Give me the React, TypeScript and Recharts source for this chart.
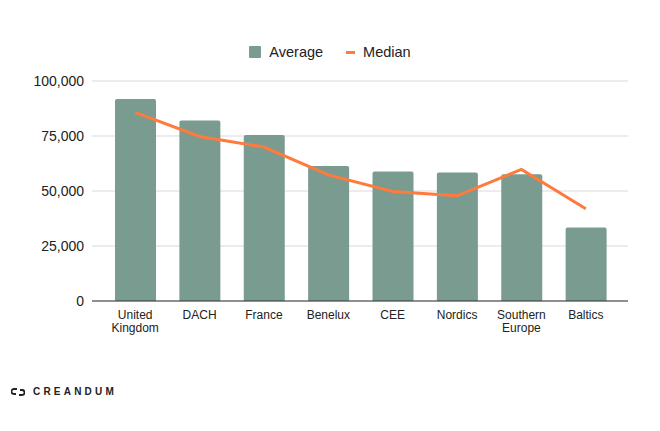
import React from 'react';
import { ComposedChart, Bar, Line, XAxis, YAxis, CartesianGrid, Legend } from 'recharts';

// Salary by region (EUR)
const regions = ['United Kingdom', 'DACH', 'France', 'Benelux', 'CEE', 'Nordics', 'Southern Europe', 'Baltics'];
const averageValues = [91800, 82000, 75400, 61400, 58900, 58400, 57600, 33400];
const medianValues = [85700, 74800, 70000, 57300, 49800, 47800, 59800, 41900];
const yTicks = [0, 25000, 50000, 75000, 100000];

const data = regions.map((region, i) => ({
  region,
  average: averageValues[i],
  median: medianValues[i],
}));

const FONT = '"Liberation Sans", Arial, sans-serif';
const BAR_COLOR = '#7a9c90';
const LINE_COLOR = '#ff7a3d';

const RegionTick = (props: { x: number; y: number; payload: { value: string } }) => {
  const { x, y, payload } = props;
  const words = payload.value.split(' ');
  return (
    <text x={x} y={y} textAnchor="middle" fill="#222" fontSize={12} fontFamily={FONT}>
      {words.map((w, i) => (
        <tspan key={w} x={x} dy={i === 0 ? 10 : 13}>
          {w}
        </tspan>
      ))}
    </text>
  );
};

const renderLegend = (props: { payload?: { value: string; type?: string; color?: string }[] }) => {
  const items = props.payload || [];
  return (
    <div
      style={{
        display: 'flex',
        justifyContent: 'center',
        alignItems: 'center',
        height: 24,
        fontFamily: FONT,
        fontSize: 14.5,
        color: '#222',
      }}
    >
      {items.map((item) => (
        <div key={item.value} style={{ display: 'flex', alignItems: 'center', marginRight: item.type === 'rect' ? 23 : 0 }}>
          {item.type === 'rect' ? (
            <span style={{ width: 12, height: 12, background: BAR_COLOR, borderRadius: 1, marginRight: 8 }} />
          ) : (
            <span style={{ width: 9, height: 3, background: LINE_COLOR, marginRight: 8 }} />
          )}
          <span>{item.value}</span>
        </div>
      ))}
    </div>
  );
};

const CreandumLogo = () => (
  <div
    style={{
      position: 'absolute',
      left: 11,
      top: 386,
      display: 'flex',
      alignItems: 'center',
      fontFamily: FONT,
    }}
  >
    <svg width={14} height={10} viewBox="0 0 14 10">
      <path d="M6 2 H3 a2.5 2.5 0 0 0 0 5 H5" fill="none" stroke="#222" strokeWidth={1.8} />
      <path d="M8 8 H11 a2.5 2.5 0 0 0 0 -5 H9" fill="none" stroke="#222" strokeWidth={1.8} />
    </svg>
    <span style={{ marginLeft: 8, fontSize: 10, fontWeight: 'bold', letterSpacing: 3.2, color: '#222' }}>CREANDUM</span>
  </div>
);

export default function App() {
  return (
    <div style={{ position: 'absolute', top: 0, left: 0, width: 660, height: 431, background: '#fff' }}>
      <ComposedChart
        width={660}
        height={360}
        data={data}
        margin={{ top: 40, right: 32, bottom: 29, left: 0 }}
        barCategoryGap={0}
      >
        <CartesianGrid vertical={false} stroke="#d9d9d9" />
        <XAxis
          dataKey="region"
          interval={0}
          tickLine={false}
          axisLine={{ stroke: '#333' }}
          padding={{ left: 11, right: 10 }}
          height={30}
          tick={RegionTick}
        />
        <YAxis
          width={92}
          domain={[0, 100000]}
          ticks={yTicks}
          axisLine={false}
          tickLine={false}
          tickFormatter={(v: number) => v.toLocaleString('en-US')}
          tick={{ fill: '#222', fontSize: 14, fontFamily: FONT }}
        />
        <Legend verticalAlign="top" height={41} content={renderLegend} wrapperStyle={{ left: 0, width: 660 }} />
        <Bar dataKey="average" name="Average" fill={BAR_COLOR} barSize={41} radius={[2, 2, 0, 0]} legendType="rect" isAnimationActive={false} />
        <Line
          dataKey="median"
          name="Median"
          type="linear"
          stroke={LINE_COLOR}
          strokeWidth={3}
          dot={false}
          activeDot={false}
          legendType="line"
          isAnimationActive={false}
        />
      </ComposedChart>
      <CreandumLogo />
    </div>
  );
}
